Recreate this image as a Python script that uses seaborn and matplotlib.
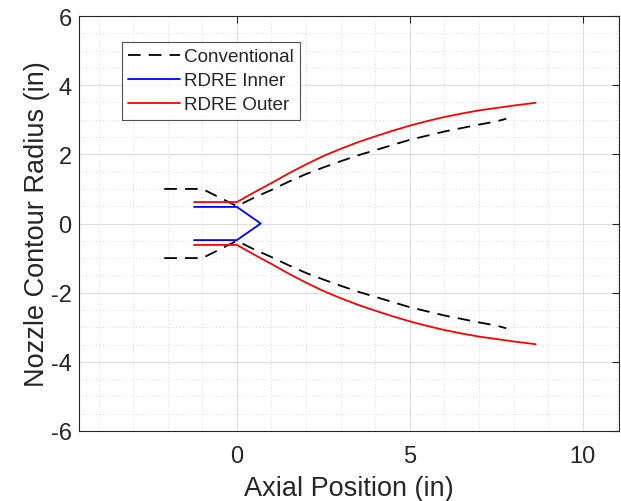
import numpy as np
import pandas as pd
import matplotlib
matplotlib.use("Agg")
import matplotlib.pyplot as plt
import seaborn as sns
from matplotlib.ticker import MultipleLocator

# ---- data ----
conv_x = [-2.1, -1.0, 0.0, 0.5, 1.0, 1.5, 2.0, 2.5, 3.0, 3.5, 4.0, 4.5, 5.0,
          5.5, 6.0, 6.5, 7.0, 7.5, 7.79]
conv_r = [1.0, 1.0, 0.5, 0.75, 0.97, 1.21, 1.43, 1.62, 1.80, 1.97, 2.12, 2.27,
          2.42, 2.54, 2.66, 2.76, 2.86, 2.95, 3.03]

inner_x = [-1.24, 0.0, 0.69, 0.0, -1.24]
inner_r = [0.48, 0.48, 0.0, -0.48, -0.48]

outer_x = [-1.24, 0.0, 0.5, 1.0, 1.5, 2.0, 2.5, 3.0, 3.5, 4.0, 4.5, 5.0, 5.5,
           6.0, 6.5, 7.0, 7.5, 8.0, 8.64]
outer_r = [0.62, 0.62, 0.90, 1.17, 1.45, 1.71, 1.95, 2.16, 2.35, 2.52, 2.68,
           2.83, 2.96, 3.08, 3.18, 3.27, 3.34, 3.41, 3.49]

labels = ["Conventional", "RDRE Inner", "RDRE Outer"]
colors = ["black", "blue", "red"]

sns.set_theme(style="white")
plt.rcParams['font.family'] = ['Liberation Sans', 'DejaVu Sans']
plt.rcParams['axes.unicode_minus'] = False

fig = plt.figure(figsize=(6.21, 5.02), dpi=100)
ax = fig.add_axes([78.5/621, 1-432/502, (619-78.5)/621, (432-17)/502])

lw = 1.3
dash = (0, (7, 4.5))
df_cu = pd.DataFrame({"x": conv_x, "r": conv_r})
df_cl = pd.DataFrame({"x": conv_x, "r": [-v for v in conv_r]})
df_in = pd.DataFrame({"x": inner_x, "r": inner_r})
df_ou = pd.DataFrame({"x": outer_x, "r": outer_r})
df_ol = pd.DataFrame({"x": outer_x, "r": [-v for v in outer_r]})

common = dict(x="x", y="r", sort=False, estimator=None, errorbar=None, ax=ax, lw=lw)
sns.lineplot(data=df_cu, color=colors[0], label=labels[0], linestyle=dash, **common)
sns.lineplot(data=df_cl, color=colors[0], linestyle=dash, legend=False, **common)
sns.lineplot(data=df_in, color=colors[1], label=labels[1], **common)
sns.lineplot(data=df_ou, color=colors[2], label=labels[2], **common)
sns.lineplot(data=df_ol, color=colors[2], legend=False, **common)

ax.set_xlim(-4.58, 11.05)
ax.set_ylim(-6, 6)
ax.set_xticks([0, 5, 10])
ax.set_yticks([-6, -4, -2, 0, 2, 4, 6])
ax.xaxis.set_minor_locator(MultipleLocator(1))
ax.yaxis.set_minor_locator(MultipleLocator(0.5))

ax.grid(True, which="major", color="#dfdfdf", lw=0.8, linestyle="-")
ax.grid(True, which="minor", color="#c8c8c8", lw=0.6, linestyle=(0, (1, 3)))
ax.set_axisbelow(True)

dark = "#262626"
for s in ax.spines.values():
    s.set_visible(True)
    s.set_color(dark)
    s.set_linewidth(0.8)
ax.tick_params(which="major", direction="in", length=5, width=0.8, color=dark,
               top=True, right=True, labelsize=17, labelcolor=dark)
ax.tick_params(axis="x", which="major", pad=10)
ax.tick_params(axis="y", which="major", pad=5)
ax.tick_params(which="minor", length=0, top=True, right=True)

ax.set_xlabel("Axial Position (in)", fontsize=19.5, color=dark, labelpad=6)
ax.set_ylabel("Nozzle Contour Radius (in)", fontsize=19.5, color=dark, labelpad=0.5)

leg = ax.legend(loc="upper left", bbox_to_anchor=(0.0805, 0.937), borderaxespad=0,
                fontsize=13.6, frameon=True, fancybox=False, handlelength=2.75,
                handletextpad=0.2, labelspacing=0.36, borderpad=0.32)
leg.get_frame().set_edgecolor(dark)
leg.get_frame().set_linewidth(0.8)

fig.savefig("out.png", dpi=100)
